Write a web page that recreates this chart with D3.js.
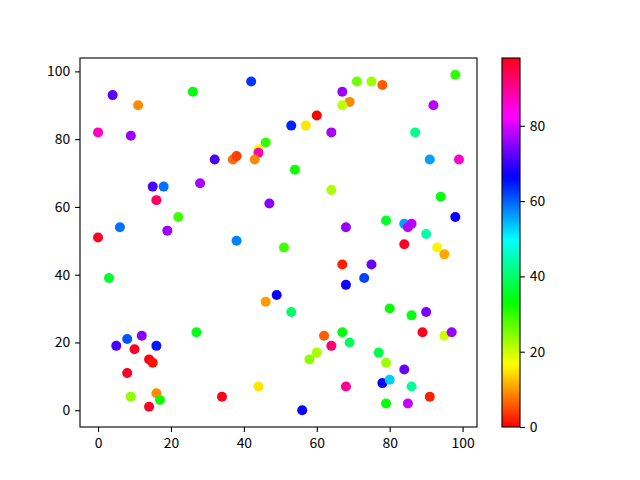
<!DOCTYPE html>
<html>
<head>
  <meta charset="utf-8"/>
  <title>Scatter</title>
  <script src="https://d3js.org/d3.v7.min.js"></script>
  <style>
    body { margin: 0; background: #fff; }
    text { font-family: "Noto Sans CJK SC", "Liberation Sans", sans-serif; font-size: 13.9px; fill: #000; }
  </style>
</head>
<body>
<div id="chart"></div>
<script>
// point data: x, y and colour value
var xs = [4, 11, 26, 42, 0, 9, 46, 44, 44, 32, 37, 38, 43, 15, 18, 28, 16, 47, 22, 6, 19, 0, 38,
          98, 71, 75, 78, 67, 69, 67, 92, 60, 53, 57, 64, 87, 91, 99, 54, 64, 94, 98, 68, 79, 84, 86, 85, 90,
          3, 49, 46, 27, 5, 8, 12, 16, 10, 14, 15, 8, 44, 9, 16, 17, 14, 34,
          51, 84, 93, 95, 67, 75, 73, 68, 53, 80, 86, 90, 62, 67, 69, 64, 60, 58, 89, 95, 97, 77, 79, 84, 78, 80, 86, 68, 79, 85, 91, 56]
var ys = [93, 90, 94, 97, 82, 81, 79, 77, 76, 74, 74, 75, 74, 66, 66, 67, 62, 61, 57, 54, 53, 51, 50,
          99, 97, 97, 96, 94, 91, 90, 90, 87, 84, 84, 82, 82, 74, 74, 71, 65, 63, 57, 54, 56, 55, 55, 54, 52,
          39, 34, 32, 23, 19, 21, 22, 19, 18, 15, 14, 11, 7, 4, 5, 3, 1, 4,
          48, 49, 48, 46, 43, 43, 39, 37, 29, 30, 28, 29, 22, 23, 20, 19, 17, 15, 23, 22, 23, 17, 14, 12, 8, 9, 7, 7, 2, 2, 4, 0]
var cs = [72, 9, 34, 63, 87, 76, 30, 17, 88, 71, 7, 4, 9, 71, 59, 77, 93, 75, 29, 59, 76, 97, 58,
          30, 26, 23, 6, 76, 9, 21, 78, 0, 64, 15, 77, 42, 56, 86, 32, 22, 34, 67, 76, 36, 56, 78, 78, 44,
          36, 67, 10, 35, 71, 61, 75, 65, 97, 98, 1, 97, 15, 24, 9, 32, 97, 98,
          29, 97, 16, 11, 2, 73, 62, 67, 40, 33, 34, 74, 6, 34, 39, 92, 22, 24, 98, 20, 76, 38, 23, 73, 67, 53, 43, 90, 33, 79, 2, 67]
var xTicks = [0, 20, 40, 60, 80, 100]
var yTicks = [0, 20, 40, 60, 80, 100]
var cTicks = [0, 20, 40, 60, 80]

// matplotlib "hsv" colormap stops
var hsvStops = [0, 0.15873, 0.174603, 0.333333, 0.349206, 0.507937, 0.666667, 0.68254, 0.84127, 0.857143, 1]
var hsvColors = ["rgb(255,0,0)", "rgb(255,239,0)", "rgb(247,255,0)", "rgb(8,255,0)", "rgb(0,255,16)",
                 "rgb(0,255,255)", "rgb(0,16,255)", "rgb(8,0,255)", "rgb(255,0,255)", "rgb(255,0,239)", "rgb(255,0,24)"]

var width = 640, height = 480
var axL = 80, axR = 477, axT = 58, axB = 427

var svg = d3.select("#chart").append("svg")
  .attr("width", width).attr("height", height)

var x = d3.scaleLinear().domain([-4.95, 103.95]).range([axL, axR])
var y = d3.scaleLinear().domain([-4.95, 103.95]).range([axB, axT])

var cExt = d3.extent(cs)
var norm = d3.scaleLinear().domain(cExt).range([0, 1])
var cmap = d3.scaleLinear().domain(hsvStops).range(hsvColors).interpolate(d3.interpolateRgb)
var color = function(v) { return cmap(norm(v)) }

var pts = d3.range(xs.length).map(function(i) { return {x: xs[i], y: ys[i], c: cs[i]} })

svg.append("g")
  .selectAll("circle")
  .data(pts)
  .enter()
  .append("circle")
    .attr("cx", function(d) { return x(d.x) })
    .attr("cy", function(d) { return y(d.y) })
    .attr("r", 5)
    .attr("fill", function(d) { return color(d.c) })

// axes
var xAxis = svg.append("g")
  .attr("transform", "translate(0," + axB + ")")
  .call(d3.axisBottom(x).tickValues(xTicks).tickSize(4.9).tickPadding(4.9))
var yAxis = svg.append("g")
  .attr("transform", "translate(" + axL + ",0)")
  .call(d3.axisLeft(y).tickValues(yTicks).tickSize(4.9).tickPadding(4.9))
;[xAxis, yAxis].forEach(function(a) {
  a.select(".domain").remove()
  a.selectAll("line").attr("stroke", "#000").attr("stroke-width", 1.1)
  a.selectAll("text").attr("font-size", null).attr("font-family", null)
})
xAxis.selectAll("text").attr("dy", "0.8em")

svg.append("rect")
  .attr("x", axL).attr("y", axT)
  .attr("width", axR - axL).attr("height", axB - axT)
  .attr("fill", "none").attr("stroke", "#000").attr("stroke-width", 1.1)

// colorbar
var cbLeft = 502, cbRight = 520
var cy = d3.scaleLinear().domain(cExt).range([axB, axT])

var grad = svg.append("defs").append("linearGradient")
  .attr("id", "cbgrad").attr("x1", 0).attr("y1", 1).attr("x2", 0).attr("y2", 0)
grad.selectAll("stop")
  .data(hsvStops)
  .enter()
  .append("stop")
    .attr("offset", function(d) { return d })
    .attr("stop-color", function(d, i) { return hsvColors[i] })

svg.append("rect")
  .attr("x", cbLeft).attr("y", axT)
  .attr("width", cbRight - cbLeft).attr("height", axB - axT)
  .attr("fill", "url(#cbgrad)").attr("stroke", "#000").attr("stroke-width", 1.1)

var cAxis = svg.append("g")
  .attr("transform", "translate(" + cbRight + ",0)")
  .call(d3.axisRight(cy).tickValues(cTicks).tickSize(4.9).tickPadding(4.9))
cAxis.select(".domain").remove()
cAxis.selectAll("line").attr("stroke", "#000").attr("stroke-width", 1.1)
cAxis.selectAll("text").attr("font-size", null).attr("font-family", null)
</script>
</body>
</html>
